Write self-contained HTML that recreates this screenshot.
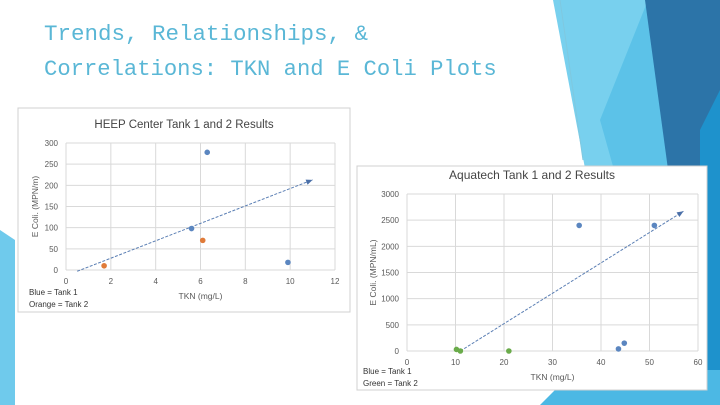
<!DOCTYPE html>
<html><head><meta charset="utf-8"><style>
body{margin:0;width:720px;height:405px;overflow:hidden;background:#fff;font-family:"Liberation Sans",sans-serif}
svg{display:block}
</style></head><body>
<svg width="720" height="405" viewBox="0 0 720 405">
<g>
<polygon points="553,0 648,0 700,405 630,405" fill="#78d0ee"/>
<polygon points="600,120 648,0 720,0 720,405 680,405" fill="#5cc2e8"/>
<polygon points="645,0 720,0 720,405 700,405" fill="#2c74a8"/>
<polygon points="700,130 720,90 720,405 700,405" fill="#1e92cc"/>
<polygon points="540,405 575,370 720,370 720,405" fill="#4cb8e4"/>
<polygon points="0,230 15,240 15,405 0,405" fill="#6fcaec"/>
<line x1="560" y1="0" x2="583" y2="160" stroke="#7fc8e0" stroke-width="1"/>
</g>
<text x="44" y="40" font-family="Liberation Mono,monospace" font-size="22.5" fill="#5ab7d6">Trends, Relationships, &amp;</text>
<text x="44" y="75" font-family="Liberation Mono,monospace" font-size="22.2" fill="#5ab7d6">Correlations: TKN and E Coli Plots</text>
<g id="c1"></g>
<g id="c2"></g>
</svg>
<script>
const c1X=[0,2,4,6,8,10,12];
const c1Y=[0,50,100,150,200,250,300];
const c1BlueX=[6.3,5.6,9.9];
const c1BlueY=[278,98,18];
const c1OrangeX=[1.7,6.1];
const c1OrangeY=[10,70];
const c1TrendX=[0.5,11];
const c1TrendY=[-3,213];
const c2X=[0,10,20,30,40,50,60];
const c2Y=[0,500,1000,1500,2000,2500,3000];
const c2BlueX=[35.5,51,43.6,44.8];
const c2BlueY=[2400,2400,40,150];
const c2GreenX=[10.2,11,21];
const c2GreenY=[30,0,0];
const c2TrendX=[11,57];
const c2TrendY=[0,2670];
const NS="http://www.w3.org/2000/svg";
function mk(p,t,a){const e=document.createElementNS(NS,t);for(const k in a)e.setAttribute(k,a[k]);p.appendChild(e);return e;}
function chart(g,o){
  const sx=v=>o.x0+(v-o.xs[0])/(o.xs[o.xs.length-1]-o.xs[0])*(o.x1-o.x0);
  const sy=v=>o.y0-(v-o.ys[0])/(o.ys[o.ys.length-1]-o.ys[0])*(o.y0-o.y1);
  const bg=mk(g,'rect',{x:o.bx,y:o.by,width:o.bw,height:o.bh,fill:'#fff',stroke:'#d0d0d0'});
  
  
  const t=mk(g,'text',{x:(o.bx+o.bw/2),y:o.ty,'text-anchor':'middle','font-size':o.tf,fill:'#444'});t.textContent=o.title;
  
  
  o.xs.forEach(v=>{
    const l=mk(g,'line',{x1:sx(v),x2:sx(v),y1:o.y1,y2:o.y0,stroke:'#d9d9d9'});
    
    
    const tx=mk(g,'text',{x:sx(v),y:o.y0+14,'text-anchor':'middle','font-size':8,fill:'#595959'});tx.textContent=v;
    
    
  });
  o.ys.forEach(v=>{
    const l=mk(g,'line',{x1:o.x0,x2:o.x1,y1:sy(v),y2:sy(v),stroke:'#d9d9d9'});
    
    
    const ty=mk(g,'text',{x:o.x0-o.ly,y:sy(v)+3,'text-anchor':'end','font-size':8,fill:'#595959'});ty.textContent=v;
    
    
  });
  const xt=mk(g,'text',{x:(o.x0+o.x1)/2,y:o.y0+29,'text-anchor':'middle','font-size':8.5,fill:'#595959'});xt.textContent=o.xl;
  
  
  const yt=mk(g,'text',{x:0,y:0,'text-anchor':'middle','font-size':8.5,fill:'#595959',transform:`translate(${o.yx},${(o.y0+o.y1)/2}) rotate(-90)`});yt.textContent=o.yl;
  
  
  const ax1=sx(o.tx[0]),ay1=sy(o.ty2[0]),ax2=sx(o.tx[1]),ay2=sy(o.ty2[1]);
  const tl=mk(g,'line',{x1:ax1,y1:ay1,x2:ax2,y2:ay2,stroke:'#5b7fb4','stroke-width':1,'stroke-dasharray':'3,1.5'});
  
  
  const ang=Math.atan2(ay2-ay1,ax2-ax1);
  const p=[[ax2,ay2],[ax2-7*Math.cos(ang-0.4),ay2-7*Math.sin(ang-0.4)],[ax2-7*Math.cos(ang+0.4),ay2-7*Math.sin(ang+0.4)]];
  const ar=mk(g,'polygon',{points:p.map(q=>q.join(',')).join(' '),fill:'#4a6fa8'});
  
  
  o.series.forEach(s=>{s.x.forEach((v,i)=>{
    const c=mk(g,'circle',{cx:sx(v),cy:sy(s.y[i]),r:2.8,fill:s.c});
    
    
  });});
  o.notes.forEach((n,i)=>{
    const tn=mk(g,'text',{x:o.nx,y:o.ny+i*12,'font-size':8,fill:'#333'});tn.textContent=n;
    
    
  });
}
chart(document.getElementById('c1'),{bx:18,by:108,bw:332,bh:204,x0:66,x1:335,y0:270,y1:143,xs:c1X,ys:c1Y,ly:8,
  title:'HEEP Center Tank 1 and 2 Results',ty:128,tf:11.5,xl:'TKN (mg/L)',yl:'E Coli. (MPN/m)',yx:38,
  tx:c1TrendX,ty2:c1TrendY,series:[{x:c1BlueX,y:c1BlueY,c:'#5b86c0',n:'tank1-point'},{x:c1OrangeX,y:c1OrangeY,c:'#e07b39',n:'tank2-point'}],
  notes:['Blue = Tank 1','Orange = Tank 2'],nx:29,ny:295});
chart(document.getElementById('c2'),{bx:357,by:166,bw:350,bh:224,x0:407,x1:698,y0:351,y1:194,xs:c2X,ys:c2Y,ly:8,
  title:'Aquatech Tank 1 and 2 Results',ty:179,tf:12,xl:'TKN (mg/L)',yl:'E Coli. (MPN/mL)',yx:376,
  tx:c2TrendX,ty2:c2TrendY,series:[{x:c2BlueX,y:c2BlueY,c:'#5b86c0',n:'tank1-point'},{x:c2GreenX,y:c2GreenY,c:'#6aab4a',n:'tank2-point'}],
  notes:['Blue = Tank 1','Green = Tank 2'],nx:363,ny:374});
</script>
</body></html>
